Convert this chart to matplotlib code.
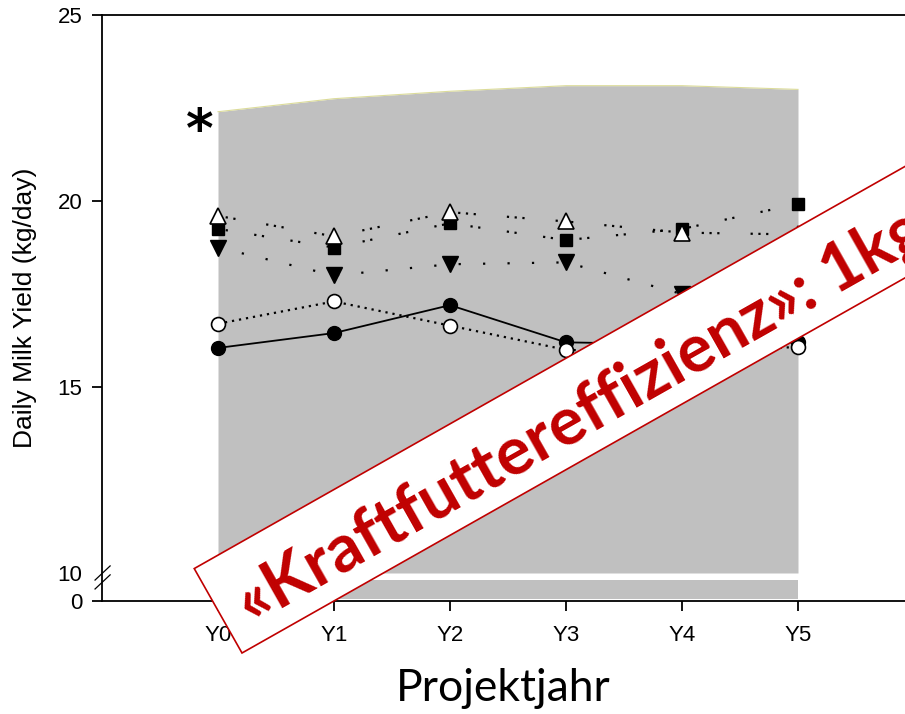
import numpy as np
import matplotlib
matplotlib.use("Agg")
import matplotlib.pyplot as plt
from matplotlib.patches import Rectangle
from matplotlib.transforms import Affine2D

# data
years = ["Y0", "Y1", "Y2", "Y3", "Y4", "Y5"]
filled_circle = [16.05, 16.45, 17.2, 16.2, 16.15, 16.2]
open_circle = [16.7, 17.3, 16.65, 16.0, 15.9, 16.08]
filled_down = [18.75, 18.0, 18.3, 18.35, 17.5, 17.2]
filled_square = [19.25, 18.75, 19.4, 18.95, 19.25, 19.92]
open_up = [19.6, 19.05, 19.7, 19.45, 19.15, 19.1]
band_top = [22.4, 22.75, 22.95, 23.1, 23.1, 23.0]
band_bottom = 10.0

# broken axis: "0" sits just below "10"
zero_pos = 10 - 28 / 37.2
strip_low, strip_high = 9.30, 9.81

plt.rcParams["font.family"] = ["Liberation Sans", "DejaVu Sans"]

fig = plt.figure(figsize=(9.05, 7.14), dpi=100)
ax = fig.add_axes([102 / 905, 113 / 714, 803 / 905, 586 / 714])

x = np.arange(len(years))

# grey background band
ax.fill_between(x, band_bottom, band_top, color="#c0c0c0", lw=0, zorder=1)
ax.plot(x, band_top, color="#dcdc9a", lw=0.8, zorder=1)
ax.fill_between(x, strip_low, strip_high, color="#c0c0c0", lw=0, zorder=1)

ax.plot(x, filled_circle, color="black", lw=1.3, marker="o", ms=10,
        mfc="black", mec="black", zorder=3)
ax.plot(x, open_circle, color="black", lw=1.6, ls=(0, (1, 2.2)), marker="o", ms=10,
        mfc="white", mec="black", mew=1.2, zorder=3)
ax.plot(x, filled_down, color="black", lw=1.6, ls=(0, (1, 10)), marker="v", ms=11,
        mfc="black", mec="black", zorder=3)
ax.plot(x, filled_square, color="black", lw=1.6, ls=(0, (1, 2.5, 1, 12)), marker="s", ms=9,
        mfc="black", mec="black", zorder=3)
ax.plot(x, open_up, color="black", lw=1.6, ls=(0, (1, 2.5, 1, 2.5, 1, 14)), marker="^", ms=11,
        mfc="white", mec="black", mew=1.2, zorder=4)

ax.text(-0.16, 21.85, "*", fontsize=38, fontweight="bold", ha="center", va="center",
        family="DejaVu Sans")

ax.set_xlim(-1.0, (905 - 218) / 116)
ax.set_ylim(zero_pos, 25)
ax.set_xticks(x)
ax.set_xticklabels(years)
ax.set_yticks([zero_pos, 10, 15, 20, 25])
ax.set_yticklabels(["0", "10", "15", "20", "25"])
ax.yaxis.get_major_ticks()[1].tick1line.set_visible(False)

ax.tick_params(axis="both", direction="out", length=7, width=1.3, labelsize=16)
ax.tick_params(axis="x", pad=10)
ax.tick_params(axis="y", pad=7)
for side in ["left", "bottom", "top"]:
    ax.spines[side].set_linewidth(1.3)
ax.spines["right"].set_visible(False)

# axis break marks
for y0, y1 in [(9.81, 10.19), (9.57, 9.95)]:
    ax.plot([-1.06, -0.93], [y0, y1], color="black", lw=0.9, clip_on=False, zorder=5)

ax.set_ylabel("Daily Milk Yield (kg/day)", fontsize=19, labelpad=15)
ax.set_xlabel("Projektjahr", fontsize=32, family="Lato", labelpad=16)

# diagonal banner
angle = 29.5
banner_tr = Affine2D().rotate_deg(angle).translate(2.42, 0.61) + fig.dpi_scale_trans
fig.patches.append(Rectangle((0, 0), 12, 0.97, transform=banner_tr, facecolor="white",
                             edgecolor="#c00000", lw=1.2, zorder=5))
fig.text(0.22, 0.38, "«Kraftfuttereffizienz»: 1kg", transform=banner_tr, rotation=angle,
         rotation_mode="anchor", ha="left", va="center", fontsize=48, fontweight="bold",
         family="Lato", color="#c00000", zorder=6)

fig.savefig("out.png", dpi=100)
